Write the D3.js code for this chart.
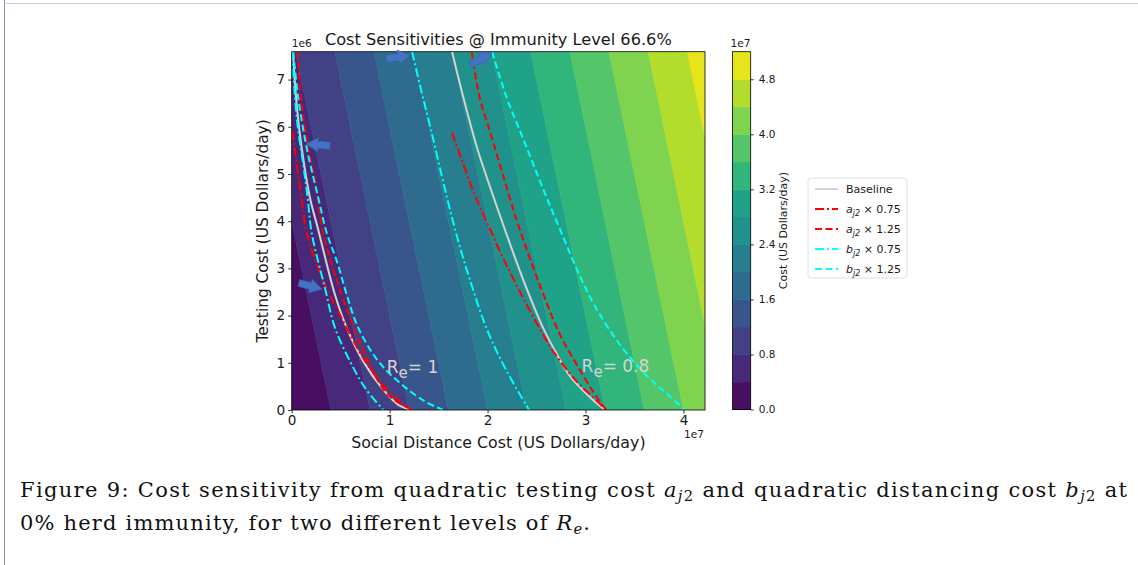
<!DOCTYPE html>
<html>
<head>
<meta charset="utf-8">
<script src="https://cdn.jsdelivr.net/npm/d3@7"></script>
<style>
  body { margin: 0; background: #fff; }
  svg { display: block; }
</style>
</head>
<body>
<div class="vis-contour"></div>
<script>
// x values in units of 1e7 $/day, y values in units of 1e6 $/day
const levels = [0, 0.4, 0.8, 1.2, 1.6, 2.0, 2.4, 2.8, 3.2, 3.6, 4.0, 4.4, 4.8, 5.2];
// where each level boundary meets the bottom (y = 0) and top (y = 7.59) edge
const boundaryBottomX = [0, 0.40, 0.80, 1.20, 1.60, 2.00, 2.40, 2.80, 3.20, 3.60, 4.00, 4.40, 4.80, 5.20];
const boundaryTopX = [-0.76, -0.36, 0.04, 0.44, 0.84, 1.24, 1.64, 2.04, 2.44, 2.84, 3.24, 3.64, 4.04, 4.44];

const xTicks = [0, 1, 2, 3, 4];
const yTicks = [0, 1, 2, 3, 4, 5, 6, 7];
const cbarTicks = [0, 0.8, 1.6, 2.4, 3.2, 4.0, 4.8];

// R_e = 1 curves
const re1Baseline = [[0.013, 7.59], [0.051, 6.47], [0.102, 5.55], [0.187, 4.49], [0.272, 3.81], [0.442, 2.44], [0.562, 1.74], [0.731, 1.03], [0.919, 0.47], [1.089, 0.11], [1.229, 0]];
const re1A075 = [[0.006, 5.91], [0.051, 5.20], [0.102, 4.49], [0.153, 3.75], [0.300, 2.85], [0.388, 2.44], [0.473, 2.10], [0.749, 1.04], [1.025, 0.32], [1.229, 0]];
const re1A125 = [[0.061, 7.59], [0.095, 6.61], [0.166, 5.55], [0.238, 4.85], [0.323, 3.75], [0.511, 2.44], [0.779, 1.04], [0.984, 0.32], [1.229, 0]];
const re1B075 = [[0.006, 7.59], [0.034, 6.61], [0.067, 5.91], [0.118, 5.20], [0.163, 4.49], [0.204, 3.75], [0.340, 2.58], [0.442, 1.74], [0.596, 1.03], [0.749, 0.47], [0.936, 0]];
const re1B125 = [[0.016, 7.59], [0.067, 6.61], [0.153, 5.55], [0.272, 4.49], [0.358, 3.75], [0.460, 3.16], [0.562, 2.44], [0.680, 1.74], [0.885, 1.03], [1.124, 0.54], [1.362, 0.18], [1.545, 0]];

// R_e = 0.8 curves
const re08Baseline = [[1.637, 7.59], [1.759, 6.57], [1.893, 5.55], [2.036, 4.66], [2.189, 3.75], [2.373, 2.71], [2.567, 1.74], [2.710, 1.17], [2.833, 0.74], [3.057, 0.25], [3.200, 0]];
const re08A075 = [[1.637, 5.87], [1.753, 5.20], [1.855, 4.63], [1.957, 4.14], [2.043, 3.75], [2.128, 3.35], [2.400, 2.23], [2.672, 1.24], [2.911, 0.60], [3.088, 0.25], [3.210, 0]];
const re08A125 = [[1.838, 7.59], [1.920, 6.61], [2.023, 5.91], [2.125, 5.20], [2.227, 4.49], [2.329, 3.82], [2.506, 2.80], [2.741, 1.59], [2.914, 0.95], [3.078, 0.39], [3.210, 0]];
const re08B075 = [[1.229, 7.59], [1.321, 6.78], [1.423, 5.93], [1.545, 4.85], [1.678, 3.75], [1.821, 2.75], [1.995, 1.70], [2.199, 0.81], [2.424, 0]];
const re08B125 = [[2.046, 7.59], [2.196, 6.61], [2.332, 5.91], [2.468, 5.20], [2.605, 4.49], [2.751, 3.77], [2.914, 2.97], [3.088, 2.23], [3.353, 1.38], [3.619, 0.74], [3.844, 0.32], [4.017, 0]];

const seriesNames = ["Baseline", "a075", "a125", "b075", "b125"];
const legendLabels = [
  { main: "Baseline" },
  { v: "a", f: "0.75" },
  { v: "a", f: "1.25" },
  { v: "b", f: "0.75" },
  { v: "b", f: "1.25" }
];

// annotation arrows (tip position in data units, rotation in degrees)
const arrowTips = [[1.208, 7.52, -10], [2.045, 7.56, -28], [0.146, 5.64, 185], [0.309, 2.56, 15]];
const reLabels = [{ x: 0.97, y: 0.78, sub: "e", text: "= 1" }, { x: 2.96, y: 0.80, sub: "e", text: "= 0.8" }];

const styles = {
  Baseline: { color: "#d3d3d3", dash: null },
  a075: { color: "#ff0000", dash: "9,3,2,3" },
  a125: { color: "#ff0000", dash: "7,3.5" },
  b075: { color: "#00ffff", dash: "9,3,2,3" },
  b125: { color: "#00ffff", dash: "7,3.5" }
};

const curves = [
  { key: "Baseline", data: re1Baseline }, { key: "a075", data: re1A075 }, { key: "a125", data: re1A125 },
  { key: "b075", data: re1B075 }, { key: "b125", data: re1B125 },
  { key: "Baseline", data: re08Baseline }, { key: "a075", data: re08A075 }, { key: "a125", data: re08A125 },
  { key: "b075", data: re08B075 }, { key: "b125", data: re08B125 }
];

const draw = () => {
  const W = 1138, H = 565;
  const font = "DejaVu Sans";
  const svg = d3.select(".vis-contour").append("svg").attr("width", W).attr("height", H);

  // page frame
  svg.append("line").attr("x1", 4.5).attr("x2", 4.5).attr("y1", 0).attr("y2", H)
    .attr("stroke", "#8593a8").attr("stroke-width", 1);
  svg.append("line").attr("x1", 4.5).attr("x2", W).attr("y1", 3.5).attr("y2", 3.5)
    .attr("stroke", "#c9d0da").attr("stroke-width", 1);

  const x = d3.scaleLinear().domain([0, 4.22]).range([291.7, 705]);
  const y = d3.scaleLinear().domain([0, 7.59]).range([410, 51.7]);
  const color = (k) => d3.interpolateViridis((k + 0.5) / (levels.length - 1));

  svg.append("clipPath").attr("id", "plotclip").append("rect")
    .attr("x", x(0)).attr("y", y(7.59)).attr("width", x(4.22) - x(0)).attr("height", y(0) - y(7.59));

  const plot = svg.append("g").attr("clip-path", "url(#plotclip)");

  // filled contour bands
  const bands = d3.range(levels.length - 1).map(k => ({
    k: k,
    pts: [[boundaryBottomX[k], 0], [boundaryTopX[k], 7.59], [boundaryTopX[k + 1], 7.59], [boundaryBottomX[k + 1], 0]]
  }));
  plot.selectAll("path.band").data(bands).enter().append("path")
    .attr("class", "band")
    .attr("d", d => "M" + d.pts.map(p => x(p[0]) + "," + y(p[1])).join("L") + "Z")
    .attr("fill", d => color(d.k))
    .attr("stroke", d => color(d.k)).attr("stroke-width", 0.6);

  // curves
  const line = d3.line().x(d => x(d[0])).y(d => y(d[1])).curve(d3.curveCatmullRom.alpha(0.5));
  plot.selectAll("path.curve").data(curves).enter().append("path")
    .attr("class", "curve")
    .attr("d", d => line(d.data))
    .attr("fill", "none")
    .attr("stroke", d => styles[d.key].color)
    .attr("stroke-width", 2)
    .attr("stroke-dasharray", d => styles[d.key].dash);

  // R_e labels
  reLabels.forEach(l => {
    const t = plot.append("text").attr("x", x(l.x)).attr("y", y(l.y))
      .attr("font-family", font).attr("font-size", 17).attr("fill", "#d4d4d4");
    t.append("tspan").text("R");
    t.append("tspan").attr("dy", 5).attr("font-size", 15).text(l.sub);
    t.append("tspan").attr("dy", -5).text(l.text);
  });

  // spines
  svg.append("rect").attr("x", x(0)).attr("y", y(7.59)).attr("width", x(4.22) - x(0)).attr("height", y(0) - y(7.59))
    .attr("fill", "none").attr("stroke", "#000").attr("stroke-width", 0.8);

  // blue annotation arrows
  svg.selectAll("path.arrow").data(arrowTips).enter().append("path")
    .attr("class", "arrow")
    .attr("d", "M-24,-3.5L-12,-3.5L-12,-7L0,0L-12,7L-12,3.5L-24,3.5Z")
    .attr("transform", d => "translate(" + x(d[0]) + "," + y(d[1]) + ") rotate(" + d[2] + ")")
    .attr("fill", "#4472c4").attr("stroke", "#3a62ad").attr("stroke-width", 0.6);

  // axes
  const xAxis = svg.append("g").attr("transform", "translate(0," + y(0) + ")")
    .call(d3.axisBottom(x).tickValues(xTicks).tickSize(3.5).tickPadding(2).tickFormat(d3.format("d")));
  const yAxis = svg.append("g").attr("transform", "translate(" + x(0) + ",0)")
    .call(d3.axisLeft(y).tickValues(yTicks).tickSize(3.5).tickPadding(3).tickFormat(d3.format("d")));
  [xAxis, yAxis].forEach(a => {
    a.select(".domain").remove();
    a.selectAll("line").attr("stroke", "#000").attr("stroke-width", 0.8);
    a.selectAll("text").attr("font-family", font).attr("font-size", 13.6).attr("fill", "#1a1a1a");
  });

  svg.append("text").attr("x", x(0)).attr("y", 47).attr("font-family", font).attr("font-size", 10.6)
    .attr("fill", "#1a1a1a").text("1e6");
  svg.append("text").attr("x", 704).attr("y", 438).attr("text-anchor", "end").attr("font-family", font)
    .attr("font-size", 10.6).attr("fill", "#1a1a1a").text("1e7");

  svg.append("text").attr("x", (x(0) + x(4.22)) / 2).attr("y", 448).attr("text-anchor", "middle")
    .attr("font-family", font).attr("font-size", 15.8).attr("fill", "#1a1a1a")
    .text("Social Distance Cost (US Dollars/day)");
  svg.append("text").attr("transform", "translate(268," + (y(0) + y(7.59)) / 2 + ") rotate(-90)")
    .attr("text-anchor", "middle").attr("font-family", font).attr("font-size", 15.4).attr("fill", "#1a1a1a")
    .text("Testing Cost (US Dollars/day)");
  svg.append("text").attr("x", (x(0) + x(4.22)) / 2).attr("y", 45).attr("text-anchor", "middle")
    .attr("font-family", font).attr("font-size", 16.2).attr("fill", "#1a1a1a")
    .text("Cost Sensitivities @ Immunity Level 66.6%");

  // colorbar
  const cb = d3.scaleLinear().domain([0, 5.2]).range([409.5, 51.7]);
  const cbx = 732.5, cbw = 18.2;
  svg.selectAll("rect.cbar").data(d3.range(levels.length - 1)).enter().append("rect")
    .attr("class", "cbar")
    .attr("x", cbx).attr("width", cbw)
    .attr("y", k => cb(levels[k + 1])).attr("height", k => cb(levels[k]) - cb(levels[k + 1]) + 0.5)
    .attr("fill", k => color(k));
  svg.append("rect").attr("x", cbx).attr("y", cb(5.2)).attr("width", cbw).attr("height", cb(0) - cb(5.2))
    .attr("fill", "none").attr("stroke", "#000").attr("stroke-width", 0.8);
  const cAxis = svg.append("g").attr("transform", "translate(" + (cbx + cbw) + ",0)")
    .call(d3.axisRight(cb).tickValues(cbarTicks).tickSize(3).tickPadding(5).tickFormat(d3.format(".1f")));
  cAxis.select(".domain").remove();
  cAxis.selectAll("line").attr("stroke", "#000").attr("stroke-width", 0.8);
  cAxis.selectAll("text").attr("font-family", font).attr("font-size", 10.5).attr("fill", "#1a1a1a");
  svg.append("text").attr("x", cbx - 2).attr("y", 47).attr("font-family", font).attr("font-size", 10.6)
    .attr("fill", "#1a1a1a").text("1e7");
  svg.append("text").attr("transform", "translate(787," + (cb(0) + cb(5.2)) / 2 + ") rotate(-90)")
    .attr("text-anchor", "middle").attr("font-family", font).attr("font-size", 11).attr("fill", "#1a1a1a")
    .text("Cost (US Dollars/day)");

  // legend
  const lg = svg.append("g").attr("transform", "translate(808,178)");
  lg.append("rect").attr("width", 99).attr("height", 100).attr("rx", 3)
    .attr("fill", "#fff").attr("stroke", "#d6d6d6").attr("stroke-width", 0.8);
  seriesNames.forEach((key, i) => {
    const ly = 11 + i * 20;
    lg.append("line").attr("x1", 7).attr("x2", 30).attr("y1", ly).attr("y2", ly)
      .attr("stroke", styles[key].color).attr("stroke-width", 2)
      .attr("stroke-dasharray", styles[key].dash);
    const t = lg.append("text").attr("x", 38).attr("y", ly + 4)
      .attr("font-family", font).attr("font-size", 11).attr("fill", "#1a1a1a");
    const lab = legendLabels[i];
    if (lab.main) {
      t.text(lab.main);
    } else {
      t.append("tspan").attr("font-style", "italic").text(lab.v);
      t.append("tspan").attr("dy", 2.5).attr("font-size", 8).attr("font-style", "italic").text("j2");
      t.append("tspan").attr("dy", -2.5).text(" \u00d7 " + lab.f);
    }
  });

  // caption (fit the last line's width, justify the first)
  const serif = "DejaVu Serif";
  const c2 = svg.append("text").attr("x", 20).attr("y", 530).attr("font-family", serif).attr("font-size", 20)
    .attr("fill", "#111");
  c2.append("tspan").text("0% herd immunity, for two different levels of ");
  c2.append("tspan").attr("font-style", "italic").text("R");
  c2.append("tspan").attr("dy", 4).attr("font-size", 14).attr("font-style", "italic").text("e");
  c2.append("tspan").attr("dy", -4).text(".");
  const fs = Math.max(17, Math.min(21, 20 * 570 / c2.node().getComputedTextLength()));
  c2.attr("font-size", fs).attr("textLength", 570).attr("lengthAdjust", "spacing");
  c2.selectAll("tspan[font-size]").attr("font-size", fs * 0.7);

  const c1 = svg.append("text").attr("x", 20).attr("y", 497).attr("font-family", serif).attr("font-size", fs)
    .attr("fill", "#111").attr("textLength", 1107).attr("lengthAdjust", "spacing");
  c1.append("tspan").text("Figure 9: Cost sensitivity from quadratic testing cost ");
  c1.append("tspan").attr("font-style", "italic").text("a");
  c1.append("tspan").attr("dy", 4).attr("font-size", fs * 0.7).attr("font-style", "italic").text("j");
  c1.append("tspan").attr("font-size", fs * 0.7).text("2");
  c1.append("tspan").attr("dy", -4).text(" and quadratic distancing cost ");
  c1.append("tspan").attr("font-style", "italic").text("b");
  c1.append("tspan").attr("dy", 4).attr("font-size", fs * 0.7).attr("font-style", "italic").text("j");
  c1.append("tspan").attr("font-size", fs * 0.7).text("2");
  c1.append("tspan").attr("dy", -4).text(" at");
};

draw();
</script>
</body>
</html>
